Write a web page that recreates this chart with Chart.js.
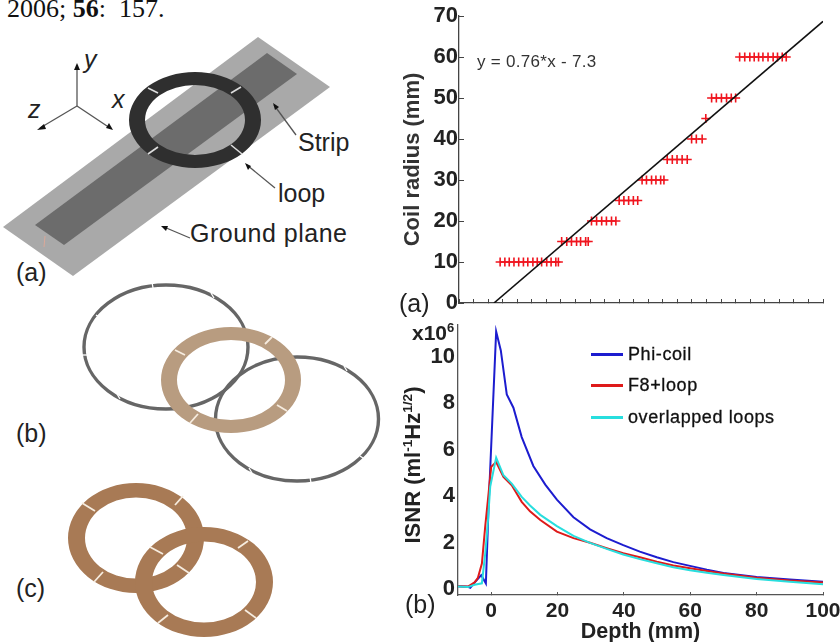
<!DOCTYPE html>
<html>
<head>
<meta charset="utf-8">
<title>Coil radius and ISNR</title>
<script src="https://cdn.jsdelivr.net/npm/chart.js@4/dist/chart.umd.min.js"></script>
<style>
  html, body { margin: 0; padding: 0; background: #fff; }
  #page { position: relative; width: 840px; height: 642px; overflow: hidden; background: #fff;
          font-family: "Liberation Sans", Arial, sans-serif; color: #222; filter: blur(0.45px); }
  #page canvas { position: absolute; }
  #radiusChart { left: 400px; top: 0; }
  #isnrChart { left: 400px; top: 320px; }
  #drawing { position: absolute; left: 0; top: 0; }
  .note { position: absolute; white-space: nowrap; line-height: 1; }
  .note sup { font-size: 62%; line-height: 0; }
  .bold { font-weight: bold; }
  #legend .swatch { position: absolute; left: 591px; width: 32px; height: 2.5px; }
  #legend .name { position: absolute; left: 628px; font-size: 18px; letter-spacing: 0.6px; line-height: 1; white-space: nowrap;
                  color: #111; -webkit-text-stroke: 0.3px #111; }
</style>
</head>
<body>
<div id="page">
  <svg id="drawing" width="400" height="642" font-family="Liberation Sans" fill="#222">
    <!-- panel a: ground plane, strip, loop -->
    <polygon points="258,37 330,87 73,276 3,227" fill="#a9a9a9"/>
    <polygon points="267,53 297,74 64,245 35,225" fill="#6c6c6c"/>
    <path fill="#2f2f2f" fill-rule="evenodd" d="M129,120 a66,48 0 1,0 132,0 a66,48 0 1,0 -132,0 Z M145,120 a50,35 0 1,0 100,0 a50,35 0 1,0 -100,0 Z"/>
    <g stroke="#ddd" stroke-width="1.6">
      <line x1="148" y1="88" x2="158" y2="93"/>
      <line x1="231" y1="93" x2="241" y2="87"/>
      <line x1="231" y1="145" x2="242" y2="154"/>
      <line x1="148" y1="154" x2="158" y2="147"/>
    </g>
    <line x1="45" y1="236" x2="44" y2="247" stroke="#dba898" stroke-width="1"/>
    <g stroke="#555" stroke-width="1.3" fill="none">
      <line x1="77" y1="106" x2="77" y2="66"/>
      <line x1="77" y1="106" x2="40" y2="128"/>
      <line x1="77" y1="106" x2="110" y2="128"/>
      <line x1="296" y1="135" x2="274" y2="105"/>
      <line x1="275" y1="188" x2="247" y2="165"/>
      <line x1="190" y1="238" x2="164" y2="227"/>
    </g>
    <g fill="#111">
      <polygon points="77,63 74,70 80,70"/>
      <polygon points="37,130 44,124 46,129"/>
      <polygon points="113,130 106,128 109,123"/>
      <polygon points="273,103 275,110 279,107"/>
      <polygon points="245,163 248,170 251,166"/>
      <polygon points="161,226 166,231 168,226"/>
    </g>
    <g font-size="25" font-style="italic">
      <text x="84" y="68">y</text>
      <text x="112" y="108">x</text>
      <text x="28" y="118">z</text>
    </g>
    <g font-size="25">
      <text x="298" y="151">Strip</text>
      <text x="278" y="202">loop</text>
      <text x="190" y="242" textLength="157">Ground plane</text>
      <text x="16" y="281">(a)</text>
      <text x="16" y="442">(b)</text>
      <text x="16" y="597">(c)</text>
    </g>
    <!-- panel b: two gray loops and the tan ring -->
    <g fill="none" stroke="#666" stroke-width="3.4">
      <ellipse cx="166" cy="347" rx="82" ry="62"/>
      <ellipse cx="297" cy="419" rx="81.5" ry="62"/>
    </g>
    <g stroke="#fff" stroke-width="1.3">
      <line x1="152" y1="282" x2="153" y2="288"/>
      <line x1="211" y1="293" x2="214" y2="298"/>
      <line x1="96" y1="315" x2="102" y2="319"/>
      <line x1="83" y1="355" x2="89" y2="355"/>
      <line x1="117" y1="394" x2="120" y2="399"/>
      <line x1="344" y1="366" x2="347" y2="371"/>
      <line x1="360" y1="456" x2="366" y2="460"/>
      <line x1="310" y1="477" x2="311" y2="483"/>
      <line x1="249" y1="468" x2="252" y2="473"/>
    </g>
    <path fill="#b89c80" fill-rule="evenodd" d="M161,380 a70,53 0 1,0 140,0 a70,53 0 1,0 -140,0 Z M177,380 a54,40 0 1,0 108,0 a54,40 0 1,0 -108,0 Z"/>
    <g stroke="#f6ecdf" stroke-width="1.8">
      <line x1="265" y1="344" x2="272" y2="337"/>
      <line x1="175" y1="350" x2="185" y2="355"/>
      <line x1="277" y1="405" x2="287" y2="411"/>
      <line x1="190" y1="423" x2="198" y2="414"/>
    </g>
    <!-- panel c: overlapped loops -->
    <g fill="#a87a55" fill-rule="evenodd">
      <path d="M68,538 a68,55 0 1,0 136,0 a68,55 0 1,0 -136,0 Z M85,538 a51,40.5 0 1,0 102,0 a51,40.5 0 1,0 -102,0 Z"/>
      <path d="M135,582 a69,55 0 1,0 138,0 a69,55 0 1,0 -138,0 Z M152,582 a52,40.5 0 1,0 104,0 a52,40.5 0 1,0 -104,0 Z"/>
    </g>
    <g stroke="#f6ecdf" stroke-width="1.8">
      <line x1="82" y1="503" x2="95" y2="511"/>
      <line x1="175" y1="505" x2="183" y2="496"/>
      <line x1="94" y1="582" x2="103" y2="572"/>
      <line x1="150" y1="547" x2="163" y2="554"/>
      <line x1="177" y1="565" x2="189" y2="573"/>
      <line x1="238" y1="548" x2="248" y2="541"/>
      <line x1="245" y1="610" x2="256" y2="618"/>
      <line x1="158" y1="623" x2="168" y2="615"/>
    </g>
  </svg>
  <div class="note" style="left:7px;top:-6px;font:26px 'Liberation Serif',serif;color:#111">2006; <b>56</b>:&nbsp; 157.</div>

  <canvas id="radiusChart" width="460" height="320"></canvas>
  <canvas id="isnrChart" width="460" height="330"></canvas>

  <div class="note" style="left:477px;top:53px;font-size:17px;letter-spacing:0.3px;color:#333">y = 0.76*x - 7.3</div>
  <div class="note" style="left:399px;top:291px;font-size:25px">(a)</div>
  <div class="note" style="left:405px;top:592px;font-size:25px">(b)</div>
  <div class="note bold" style="left:412px;top:322px;font-size:21px">x10<sup>6</sup></div>
  <div class="note bold" style="left:413px;top:465px;font-size:22px;transform:translate(-50%,-50%) rotate(-90deg)">ISNR (ml<sup>-1</sup>Hz<sup>1/2</sup>)</div>
  <div id="legend"></div>
</div>

<script>
// (a) coil radius against depth
const radiusTicks = [0, 10, 20, 30, 40, 50, 60, 70];
const coilRadius = [10, 15, 20, 25, 30, 35, 40, 45, 50, 60];
const depthsAtRadius = [
  [11.3, 12.6, 13.8, 15.1, 16.4, 17.7, 18.9, 20.3, 21.5, 22.7, 24.1, 25.3, 26.6, 27.3],
  [28.2, 29.6, 30.9, 32.3, 33.4, 34.8, 35.5],
  [36.4, 37.8, 39.2, 40.5, 41.9, 43.1],
  [44, 45.3, 46.6, 47.9, 49.1],
  [50.3, 51.5, 52.9, 54.1, 55.4, 56.3],
  [57.2, 58.6, 59.9, 61.3, 62.7],
  [63.9, 65.2, 66.8],
  [67.8],
  [69.4, 70.7, 72.1, 73.5, 74.8, 76],
  [77.1, 78.5, 79.9, 81.1, 82.3, 83.5, 84.9, 86.3, 87.5, 88.8, 89.9]
];
const fitDepth = [9.6, 100];
const fitRadius = [0, 68.7];

// (b) ISNR against depth, in units of 10^6
const depthTicks = [0, 20, 40, 60, 80, 100];
const isnrTicks = [0, 2, 4, 6, 8, 10];
const seriesNames = ["Phi-coil", "F8+loop", "overlapped loops"];
const seriesColors = ["#1c1ccf", "#de1a1a", "#28dede"];

const phiDepth = [-10, -7, -6.3, -5, -3, -1.6, -0.8, 0.2, 1.5, 2.9, 4.7, 6.7, 9.2, 12.7, 16.3, 19.8, 24.8, 29.8, 34.8, 39.8, 44.8, 49.9, 54.9, 59.9, 65, 70, 75, 80, 90, 100];
const phiIsnr = [0.14, 0.11, 0.07, 0.29, 0.61, 0.26, 3.5, 6.8, 11.07, 10.26, 8.37, 7.8, 6.54, 5.3, 4.5, 3.85, 3.1, 2.58, 2.2, 1.9, 1.62, 1.38, 1.17, 1.01, 0.85, 0.71, 0.62, 0.53, 0.43, 0.33];

const f8Depth = [-10, -7, -5, -4, -2.8, -1.8, -0.8, 0, 1.5, 3.7, 6.2, 9.2, 11.7, 14.8, 19.8, 24.8, 29.8, 34.8, 39.8, 44.8, 49.9, 54.9, 59.9, 65, 70, 80, 90, 100];
const f8Isnr = [0.14, 0.12, 0.3, 0.5, 1.11, 2.7, 4.1, 5.26, 5.47, 4.83, 4.47, 3.76, 3.35, 2.98, 2.48, 2.2, 2.0, 1.77, 1.55, 1.38, 1.19, 1.03, 0.91, 0.79, 0.68, 0.5, 0.38, 0.3];

const overlapDepth = [-10, -7, -5, -2.8, -1.8, -1.1, -0.3, 1.5, 3.7, 6.2, 9.2, 11.7, 14.8, 19.8, 24.8, 29.8, 34.8, 39.8, 44.8, 49.9, 54.9, 59.9, 65, 70, 80, 90, 100];
const overlapIsnr = [0.13, 0.1, 0.2, 0.26, 1.54, 2.69, 4.4, 5.66, 4.9, 4.54, 3.97, 3.6, 3.2, 2.72, 2.3, 2.0, 1.74, 1.5, 1.3, 1.12, 0.95, 0.82, 0.72, 0.62, 0.45, 0.33, 0.22];

function toPoints(xs, ys) {
  return xs.map((x, i) => ({ x: x, y: ys[i] }));
}

const crossPoints = [];
coilRadius.forEach((r, i) => {
  depthsAtRadius[i].forEach(d => crossPoints.push({ x: d, y: r }));
});

function useTicks(values) {
  return function (scale) {
    scale.ticks = values.map(v => ({ value: v }));
  };
}

// keep the plot area where the padding says, tick label overhang is not reserved
function noOverhang(scale) {
  scale.paddingTop = 0;
  scale.paddingBottom = 0;
}

Chart.defaults.font.family = '"Liberation Sans", Arial, sans-serif';
Chart.defaults.color = "#222";

new Chart("radiusChart", {
  type: "scatter",
  data: {
    datasets: [
      { type: "line", data: toPoints(fitDepth, fitRadius), borderColor: "#111", borderWidth: 1.6, pointRadius: 0, order: 1 },
      { data: crossPoints, pointStyle: "cross", pointRadius: 4.5, borderColor: "#f0141e", borderWidth: 1.6, backgroundColor: "#f0141e", order: 2 }
    ]
  },
  options: {
    responsive: false,
    animation: false,
    layout: { padding: { left: 0, top: 16, right: 37, bottom: 17 } },
    plugins: { legend: { display: false }, tooltip: { enabled: false } },
    scales: {
      x: {
        type: "linear", min: 0, max: 100,
        ticks: { display: false, stepSize: 4, autoSkip: false },
        grid: { drawOnChartArea: false, tickLength: -4, color: "#444" },
        border: { color: "#444", width: 1.3 },
        afterFit: scale => { scale.height = 0; }
      },
      y: {
        min: 0, max: 70,
        afterBuildTicks: useTicks(radiusTicks),
        ticks: { font: { size: 22, weight: "bold" }, color: "#222", padding: 6 },
        grid: { drawOnChartArea: false, tickLength: -5, color: "#444" },
        border: { color: "#444", width: 1.3 },
        title: { display: true, text: "Coil radius (mm)", font: { size: 22, weight: "bold" }, color: "#333", padding: 0 },
        afterFit: scale => { scale.width = 59; noOverhang(scale); }
      }
    }
  }
});

const isnrSets = [toPoints(phiDepth, phiIsnr), toPoints(f8Depth, f8Isnr), toPoints(overlapDepth, overlapIsnr)];

const isnrChart = new Chart("isnrChart", {
  type: "line",
  data: {
    datasets: isnrSets.map((pts, i) => ({
      label: seriesNames[i],
      data: pts,
      borderColor: seriesColors[i],
      borderWidth: 2,
      pointRadius: 0,
      tension: 0,
      order: 3 - i
    }))
  },
  options: {
    responsive: false,
    animation: false,
    layout: { padding: { left: 0, top: 5, right: 37, bottom: 5 } },
    plugins: { legend: { display: false }, tooltip: { enabled: false } },
    scales: {
      x: {
        type: "linear", min: -10, max: 100,
        afterBuildTicks: useTicks(depthTicks),
        ticks: { font: { size: 21, weight: "bold" }, color: "#222", padding: 7, maxRotation: 0, autoSkip: false },
        grid: { drawOnChartArea: false, tickLength: -3, color: "#555" },
        border: { color: "#555", width: 1.3 },
        title: { display: true, text: "Depth (mm)", font: { size: 21.5, weight: "bold" }, color: "#222", padding: 0 },
        afterFit: scale => { scale.height = 50; }
      },
      y: {
        min: -0.24, max: 11.35,
        afterBuildTicks: useTicks(isnrTicks),
        ticks: { font: { size: 22, weight: "bold" }, color: "#222", padding: 3 },
        grid: { drawOnChartArea: false, drawTicks: false },
        border: { color: "#555", width: 1.3 },
        afterFit: scale => { scale.width = 58; noOverhang(scale); }
      }
    }
  }
});

// legend sits inside the plot, built from the chart's own datasets
const legendBox = document.getElementById("legend");
const legendTop = [354, 385, 417];
isnrChart.data.datasets.forEach((ds, i) => {
  const swatch = document.createElement("div");
  swatch.className = "swatch";
  swatch.style.top = (legendTop[i] - 1) + "px";
  swatch.style.background = ds.borderColor;
  const name = document.createElement("div");
  name.className = "name";
  name.style.top = (legendTop[i] - 9) + "px";
  name.textContent = ds.label;
  legendBox.appendChild(swatch);
  legendBox.appendChild(name);
});
</script>
</body>
</html>
